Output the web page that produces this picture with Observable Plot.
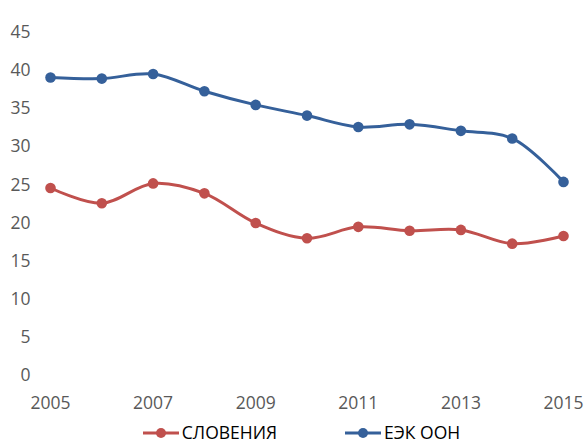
<!DOCTYPE html>
<html>
<head>
<meta charset="utf-8">
<script src="https://cdn.jsdelivr.net/npm/d3@7"></script>
<script src="https://cdn.jsdelivr.net/npm/@observablehq/plot@0.6"></script>
<style>
  html, body { margin: 0; padding: 0; background: #fff; }
  #chart { width: 585px; }
  .legend { display: flex; justify-content: center; gap: 68px; font-family: "Open Sans", sans-serif; font-size: 17.5px; line-height: 1; color: #000; height: 20px; align-items: center; margin-left: 18px; margin-top: 3px; }
  .legend span { display: inline-flex; align-items: center; gap: 3px; line-height: 1; }
  .legend svg { display: block; }
</style>
</head>
<body>
<div id="chart"></div>
<script>
const years = [2005, 2006, 2007, 2008, 2009, 2010, 2011, 2012, 2013, 2014, 2015];
const slovenia = [24.6, 22.6, 25.2, 23.9, 20.0, 18.0, 19.5, 19.0, 19.1, 17.3, 18.3];
const unece = [39.1, 38.95, 39.55, 37.3, 35.5, 34.1, 32.6, 32.95, 32.1, 31.1, 25.4];
const seriesNames = ["СЛОВЕНИЯ", "ЕЭК ООН"];
const seriesColors = ["#C0504D", "#35609A"];
const xTicks = [2005, 2007, 2009, 2011, 2013, 2015];
const yTicks = [0, 5, 10, 15, 20, 25, 30, 35, 40, 45];

const data = [];
years.forEach((y, i) => {
  data.push({year: y, value: slovenia[i], series: seriesNames[0]});
  data.push({year: y, value: unece[i], series: seriesNames[1]});
});

const chart = Plot.plot({
  width: 585,
  height: 420,
  marginLeft: 50,
  marginRight: 22,
  marginTop: 32,
  marginBottom: 45,
  style: {fontFamily: "'Open Sans', sans-serif", fontSize: "17.5px", color: "#595959", background: "#fff"},
  x: {domain: [2005, 2015], ticks: xTicks, tickFormat: d => String(d), tickSize: 0, tickPadding: 21, label: null},
  y: {domain: [0, 45], ticks: yTicks, tickSize: 0, tickPadding: 20, label: null},
  color: {domain: seriesNames, range: seriesColors},
  marks: [
    Plot.line(data, {x: "year", y: "value", z: "series", stroke: "series", strokeWidth: 3, curve: "catmull-rom"}),
    Plot.dot(data, {x: "year", y: "value", fill: "series", r: 5.3, stroke: "none"})
  ]
});
document.getElementById("chart").appendChild(chart);

const legend = document.createElement("div");
legend.className = "legend";
seriesNames.forEach((name, i) => {
  const s = document.createElement("span");
  s.innerHTML = `<svg width="36" height="12"><line x1="0" y1="6" x2="36" y2="6" stroke="${seriesColors[i]}" stroke-width="3"/><circle cx="18" cy="6" r="5" fill="${seriesColors[i]}"/></svg>${name}`;
  legend.appendChild(s);
});
document.getElementById("chart").appendChild(legend);
</script>
</body>
</html>
